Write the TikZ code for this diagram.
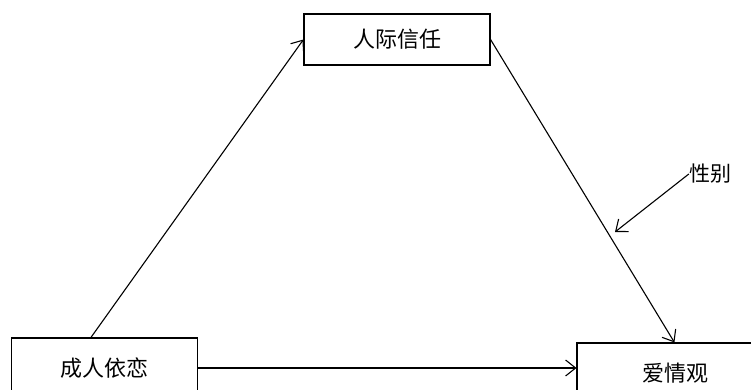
\documentclass[tikz,border=0pt]{standalone}
\usepackage{fontspec}
\newfontfamily\cjk{Noto Sans CJK SC}
\usetikzlibrary{arrows.meta}

\begin{document}
\begin{tikzpicture}[x=1pt, y=-1pt, >={Straight Barb[length=10pt,width=16pt]}]
    \clip (0,0) rectangle (751,389);

    % Boîtes des variables
    \tikzset{varbox/.style={draw, line width=1.1pt, minimum width=186pt, minimum height=51pt, inner sep=0pt, font=\cjk\fontsize{22}{26}\selectfont}}
    \node[varbox] (trust) at (397,39.5) {人际信任};
    \node[varbox, minimum height=60pt] (attach) at (104.5,368) {成人依恋};
    \node[varbox, minimum height=60pt, minimum width=196pt] (love) at (675,373) {爱情观};

    % Modérateur
    \node[font=\cjk\fontsize{21}{25}\selectfont, inner sep=0pt] (gender) at (710,174) {性别};
    \coordinate (gtip) at (615,232);

    % Flèches
    \draw[->, line width=1.1pt] ([xshift=80pt]attach.north west) -- (trust.west);
    \draw[->, line width=1.1pt] (trust.east) -- ([xshift=98pt]love.north west);
    \draw[->, line width=1.1pt] (attach.east) -- (attach.east -| love.west);
    \draw[->, line width=1.1pt] (gender.west) -- (gtip);
\end{tikzpicture}
\end{document}
